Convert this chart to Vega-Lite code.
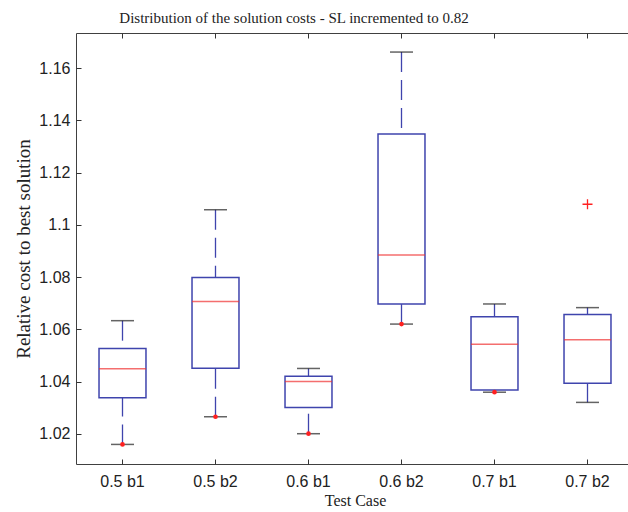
{
  "$schema": "https://vega.github.io/schema/vega-lite/v6.json",
  "width": 558,
  "height": 431,
  "autosize": {"type": "none"},
  "padding": {"left": 76, "top": 33, "right": 0, "bottom": 48},
  "background": "white",
  "title": {
    "text": "Distribution of the solution costs - SL incremented to 0.82",
    "font": "Liberation Serif",
    "fontSize": 15,
    "fontWeight": "normal",
    "color": "#222222",
    "anchor": "middle",
    "dx": -61,
    "offset": 14,
    "dy": 19,
    "baseline": "alphabetic"
  },
  "config": {
    "view": {"stroke": "#404040", "strokeWidth": 1},
    "axis": {"grid": false, "domain": false, "tickColor": "#333333", "tickWidth": 1, "labelColor": "#222222", "titleColor": "#222222"}
  },
  "datasets": {
    "boxes": [
      {"case": "0.5 b1", "lo": 1.0159, "q1": 1.0338, "med": 1.0449, "q3": 1.0526, "hi": 1.0633},
      {"case": "0.5 b2", "lo": 1.0265, "q1": 1.0451, "med": 1.0706, "q3": 1.0798, "hi": 1.1058},
      {"case": "0.6 b1", "lo": 1.0200, "q1": 1.0300, "med": 1.0400, "q3": 1.0420, "hi": 1.0450},
      {"case": "0.6 b2", "lo": 1.0620, "q1": 1.0697, "med": 1.0885, "q3": 1.1348, "hi": 1.1662},
      {"case": "0.7 b1", "lo": 1.0359, "q1": 1.0367, "med": 1.0543, "q3": 1.0648, "hi": 1.0697},
      {"case": "0.7 b2", "lo": 1.0320, "q1": 1.0393, "med": 1.0560, "q3": 1.0657, "hi": 1.0683}
    ],
    "best": [
      {"case": "0.5 b1", "cost": 1.0159},
      {"case": "0.5 b2", "cost": 1.0265},
      {"case": "0.6 b1", "cost": 1.0200},
      {"case": "0.6 b2", "cost": 1.0620},
      {"case": "0.7 b1", "cost": 1.0359}
    ],
    "outliers": [
      {"case": "0.7 b2", "cost": 1.1079}
    ]
  },
  "resolve": {"axis": {"x": "independent", "y": "independent"}},
  "layer": [
    {
      "data": {"name": "boxes"},
      "mark": {"type": "rule", "color": "#3f44ad", "strokeWidth": 1.3, "strokeDash": [20, 8]},
      "encoding": {
        "x": {"field": "case", "type": "nominal", "sort": null, "scale": {"paddingInner": 0, "paddingOuter": 0}, "axis": null},
        "y": {"field": "hi", "type": "quantitative", "scale": {"domain": [1.0084, 1.1735], "nice": false, "zero": false}, "axis": null},
        "y2": {"field": "q3"}
      }
    },
    {
      "data": {"name": "boxes"},
      "mark": {"type": "rule", "color": "#3f44ad", "strokeWidth": 1.3, "strokeDash": [20, 8]},
      "encoding": {
        "x": {"field": "case", "type": "nominal", "sort": null, "axis": null},
        "y": {"field": "lo", "type": "quantitative", "axis": null},
        "y2": {"field": "q1"}
      }
    },
    {
      "data": {"name": "boxes"},
      "mark": {"type": "bar", "fill": "white", "stroke": "#3f44ad", "strokeWidth": 1.5, "width": {"band": 0.505}},
      "encoding": {
        "x": {
          "field": "case", "type": "nominal", "sort": null,
          "axis": {
            "orient": "bottom", "labelAngle": 0, "tickSize": -5, "labelPadding": 14,
            "labelFont": "Liberation Sans", "labelFontSize": 16,
            "title": "Test Case", "titleFont": "Liberation Serif", "titleFontSize": 16,
            "titleFontWeight": "normal", "titlePadding": 3
          }
        },
        "y": {
          "field": "q1", "type": "quantitative",
          "axis": {
            "values": [1.02, 1.04, 1.06, 1.08, 1.1, 1.12, 1.14, 1.16],
            "format": ".3~f", "tickSize": -5, "labelPadding": 11,
            "labelFont": "Liberation Sans", "labelFontSize": 16,
            "title": "Relative cost to best solution", "titleFont": "Liberation Serif",
            "titleFontSize": 19, "titleFontWeight": "normal", "titlePadding": 5
          }
        },
        "y2": {"field": "q3"}
      }
    },
    {
      "data": {"name": "boxes"},
      "mark": {"type": "tick", "color": "#f03030", "size": 47, "thickness": 1.5, "orient": "horizontal"},
      "encoding": {
        "x": {"field": "case", "type": "nominal", "sort": null, "axis": null},
        "y": {"field": "med", "type": "quantitative", "axis": null}
      }
    },
    {
      "data": {"name": "boxes"},
      "mark": {"type": "tick", "color": "#222222", "size": 23, "thickness": 1.5, "orient": "horizontal"},
      "encoding": {
        "x": {
          "field": "case", "type": "nominal", "sort": null,
          "axis": {"orient": "top", "labels": false, "tickSize": -5, "title": null}
        },
        "y": {"field": "hi", "type": "quantitative", "axis": null}
      }
    },
    {
      "data": {"name": "boxes"},
      "mark": {"type": "tick", "color": "#222222", "size": 23, "thickness": 1.5, "orient": "horizontal"},
      "encoding": {
        "x": {"field": "case", "type": "nominal", "sort": null, "axis": null},
        "y": {"field": "lo", "type": "quantitative", "axis": null}
      }
    },
    {
      "data": {"name": "best"},
      "mark": {"type": "point", "shape": "circle", "filled": true, "color": "#ff2020", "size": 22, "opacity": 1},
      "encoding": {
        "x": {"field": "case", "type": "nominal", "sort": null, "axis": null},
        "y": {"field": "cost", "type": "quantitative", "axis": null}
      }
    },
    {
      "data": {"name": "outliers"},
      "mark": {"type": "point", "shape": "M-1,0L1,0M0,-1L0,1", "filled": false, "stroke": "#ff2020", "strokeWidth": 1.3, "size": 100, "opacity": 1},
      "encoding": {
        "x": {"field": "case", "type": "nominal", "sort": null, "axis": null},
        "y": {"field": "cost", "type": "quantitative", "axis": null}
      }
    }
  ]
}
